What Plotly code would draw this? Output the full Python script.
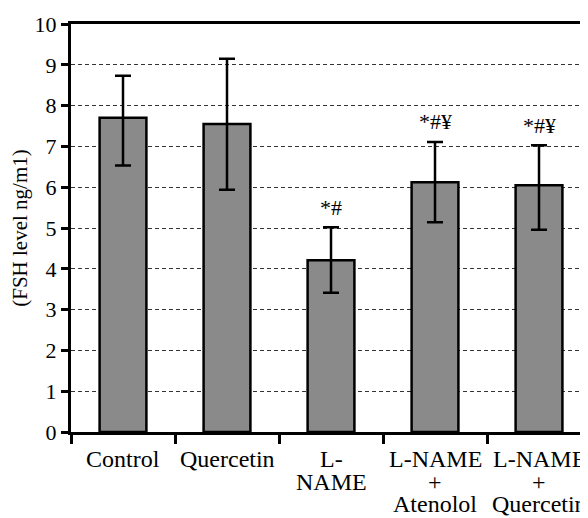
import plotly.graph_objects as go

categories = ["Control", "Quercetin", "L-NAME", "L-NAME + Atenolol", "L-NAME + Quercetin"]
label_lines = [["Control"], ["Quercetin"], ["L-", "NAME"], ["L-NAME", "+", "Atenolol"], ["L-NAME", "+", "Quercetin"]]
means = [7.70, 7.55, 4.21, 6.12, 6.05]
err_plus = [1.03, 1.60, 0.81, 0.99, 0.98]
err_minus = [1.17, 1.61, 0.80, 0.98, 1.09]
marks = ["", "", "*#", "*#¥", "*#¥"]
y_ticks = list(range(0, 11))

FONT = "Liberation Serif"

fig = go.Figure()
fig.add_trace(go.Bar(
    x=categories, y=means, width=0.45,
    marker=dict(color="#8a8a8a", line=dict(color="black", width=2.5)),
    error_y=dict(type="data", array=err_plus, arrayminus=err_minus,
                 color="black", thickness=2.5, width=8, visible=True),
))

for c, m, e, t in zip(categories, means, err_plus, marks):
    if t:
        fig.add_annotation(x=c, y=m + e, text=t, showarrow=False,
                           yanchor="middle", yshift=20,
                           font=dict(family=FONT, size=22, color="black"))

for c, lines in zip(categories, label_lines):
    for i, ln in enumerate(lines):
        fig.add_annotation(x=c, xref="x", y=0, yref="paper", text=ln,
                           showarrow=False, yanchor="top", yshift=-12 - 22.5 * i,
                           font=dict(family=FONT, size=24, color="black"))

fig.update_layout(
    width=580, height=510,
    margin=dict(l=63, r=0, t=16, b=86),
    paper_bgcolor="white", plot_bgcolor="white",
    showlegend=False,
    font=dict(family=FONT, size=22, color="black"),
)
fig.update_xaxes(
    range=[-0.5, 4.471], showline=True, linecolor="black", linewidth=3,
    mirror=True, ticks="outside", tickson="boundaries", ticklen=9,
    tickwidth=2.5, tickcolor="black", showgrid=False, showticklabels=False,
    automargin=False,
)
fig.update_yaxes(
    range=[0, 10], tickvals=y_ticks, showline=True, linecolor="black", linewidth=3,
    ticks="outside", ticklen=7, tickwidth=2.5, tickcolor="black",
    showgrid=True, gridcolor="#333333", gridwidth=1, griddash="4px,3px",
    zeroline=False, automargin=False,
    title=dict(text="(FSH level ng/m1)", font=dict(family=FONT, size=21), standoff=10),
    tickfont=dict(family=FONT, size=22, color="black"),
)

fig.write_html("out.html")
